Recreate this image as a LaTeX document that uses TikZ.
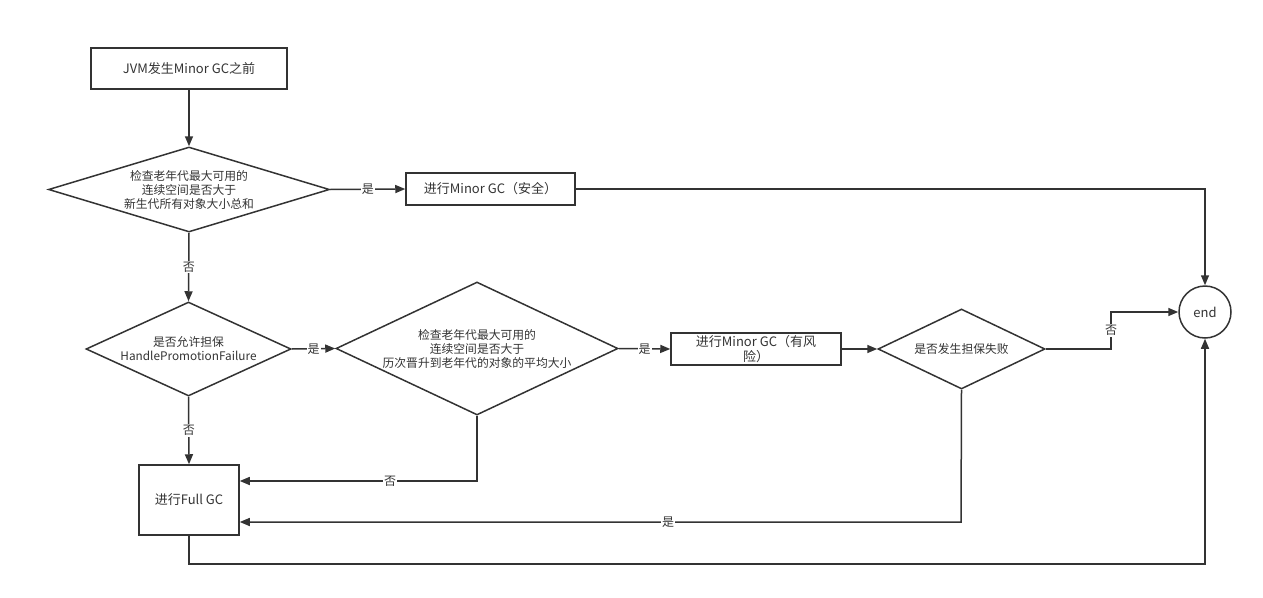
\documentclass[tikz,border=0pt]{standalone}
\usepackage{fontspec}
\setmainfont{Noto Sans CJK SC}
\usetikzlibrary{arrows.meta,shapes.geometric}
\definecolor{lc}{HTML}{333333}
\begin{document}
\begin{tikzpicture}[x=1pt,y=-1pt,
  every node/.style={text=lc},
  box/.style={draw=lc,line width=1.5pt,inner sep=0pt,align=center,font=\fontsize{13}{15}\selectfont},
  dia/.style={draw=lc,line width=1.5pt,diamond,inner sep=0pt},
  txt/.style={align=center,inner sep=0pt,font=\fontsize{11.8}{14}\selectfont},
  lbl/.style={fill=white,inner sep=1pt,font=\fontsize{12}{13}\selectfont},
  arr/.style={draw=lc,line width=1.5pt,-{Triangle[length=10pt,width=8pt]}},
  ln/.style={draw=lc,line width=1.5pt}]
\useasboundingbox (0,0) rectangle (1263,597);

\node[box,minimum width=196,minimum height=41] (b1) at (189,68.5) {JVM发生Minor GC之前};
\node[dia,minimum width=281,minimum height=85] (d1) at (189,189.5) {};
\node[txt] (t1) at (d1) {检查老年代最大可用的\\连续空间是否大于\\新生代所有对象大小总和};
\node[box,minimum width=169,minimum height=32] (b2) at (490.5,189) {进行Minor GC（安全）};
\node[draw=lc,line width=1.5pt,circle,minimum size=52,inner sep=0pt,font=\fontsize{13}{15}\selectfont] (e) at (1205,312) {end};

\node[dia,minimum width=205,minimum height=94] (d2) at (188.5,349) {};
\node[txt] (t2) at (d2) {是否允许担保\\HandlePromotionFailure};
\node[dia,minimum width=282,minimum height=133] (d3) at (477,348.5) {};
\node[txt] (t3) at (d3) {检查老年代最大可用的\\连续空间是否大于\\历次晋升到老年代的对象的平均大小};
\node[box,minimum width=170,minimum height=32] (b3) at (756,349) {进行Minor GC（有风\\险）};
\node[dia,minimum width=167,minimum height=80] (d4) at (961.5,349) {};
\node[txt] (t4) at (d4) {是否发生担保失败};
\node[box,minimum width=100,minimum height=70] (b4) at (189,500) {进行Full GC};

\coordinate (k1) at (1111,349);
\coordinate (k2) at (477,481);
\coordinate (k3) at (961,522);
\coordinate (k4) at (1205,564);

\draw[arr] (b1) -- (d1);
\draw[arr] (d1.east) -- node[lbl] (l1) {是} (b2.west);
\draw[arr] (b2.east) -| (e.north);
\draw[arr] (d1.south) -- node[lbl] (l2) {否} (d2.north);
\draw[arr] (d2.east) -- node[lbl] (l3) {是} (d3.west);
\draw[arr] (d3.east) -- node[lbl] (l4) {是} (b3.west);
\draw[arr] (b3.east) -- (d4.west);
\draw[arr] (d4.east) -- (k1) |- node[lbl,pos=0.25] (l5) {否} (e.west);
\draw[arr] (d2.south) -- node[lbl] (l6) {否} (b4.north);
\draw[arr] (d3.south) -- (k2) -- node[lbl,pos=0.366] (l7) {否} (b4.east |- k2);
\draw[arr] (d4.south) -- (k3) -- node[lbl,pos=0.406] (l8) {是} (b4.east |- k3);
\draw[arr] (b4.south) |- (k4) -- (e.south);
\end{tikzpicture}
\end{document}
